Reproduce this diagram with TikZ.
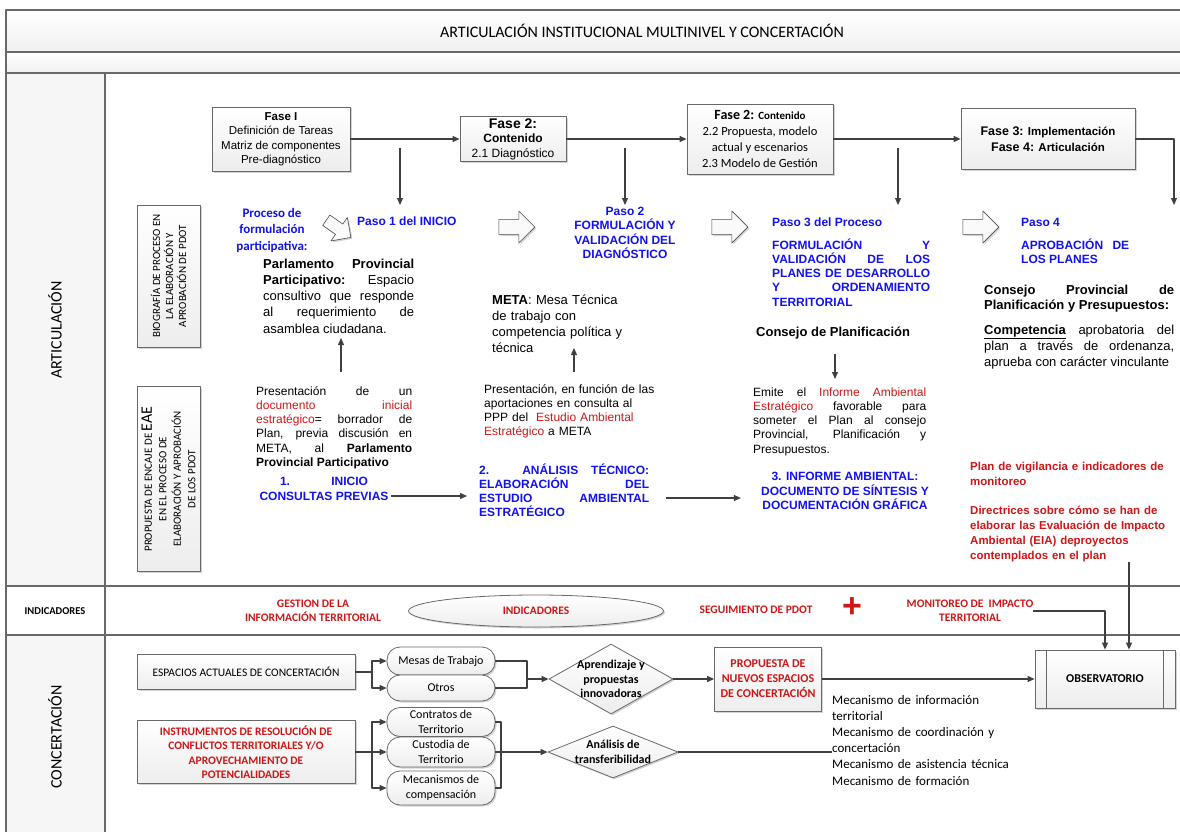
\documentclass[tikz,border=0pt]{standalone}
\usepackage{fontspec}
\setmainfont{Liberation Sans}
\newfontfamily\calib{Carlito}
\usepackage{xcolor}
\usetikzlibrary{arrows.meta,positioning,calc,shapes.geometric,shapes.arrows,shadows}
\definecolor{Xblue}{RGB}{18,18,235}
\definecolor{Xred}{RGB}{205,22,22}
\definecolor{Xline}{RGB}{64,64,64}
\definecolor{Xframe}{RGB}{105,105,105}
\newcommand{\fs}[2]{\fontsize{#1}{#2}\selectfont}
\hyphenpenalty=10000
\exhyphenpenalty=10000
\hbadness=10000
\tolerance=3000
\tikzset{
  flow/.style={-{Triangle[length=7pt,width=6pt]}, line width=1.1pt, draw=Xline},
  link/.style={line width=1.1pt, draw=Xline},
  lane/.style={draw=Xframe, line width=1.2pt},
  shadowed/.style={drop shadow={opacity=0.35, shadow xshift=1.5pt, shadow yshift=-1.5pt}},
  fasebox/.style={shadowed, draw=Xframe, line width=0.8pt, top color=white, bottom color=gray!14, align=center, inner sep=2pt},
  sidebox/.style={fasebox, rotate=90, font=\calib\fs{11}{13}},
  pillbox/.style={fasebox, rounded corners=13pt, minimum width=108pt, font=\calib\fs{12}{14.5}},
  decision/.style={diamond, shadowed, draw=Xframe, line width=0.8pt, top color=white, bottom color=gray!14, inner sep=0pt},
  blockarrow/.style={single arrow, shadowed, draw=gray!60!black, line width=0.6pt, fill=gray!4, minimum height=36pt, minimum width=32pt, single arrow head extend=8pt, inner xsep=0pt, inner ysep=7pt},
  bluetext/.style={text=Xblue, inner sep=0pt, font=\bfseries\fs{12}{14.3}},
  redtext/.style={text=Xred, inner sep=0pt},
  bodytext/.style={inner sep=0pt, font=\fs{12}{14.3}},
}
\begin{document}
\begin{tikzpicture}[x=1pt, y=-1pt, line join=round]
\useasboundingbox (0,0) rectangle (1180,832);
% frame and lanes
\fill[gray!7] (6,73) rectangle (105,586);
\fill[gray!7] (6,635) rectangle (105,840);
\shade[top color=white, bottom color=gray!12] (6,10) rectangle (1186,52);
\shade[top color=white, bottom color=gray!12] (6,52) rectangle (1186,73);
\draw[lane] (6,840) -- (6,10) -- (1186,10);
\draw[lane] (6,52) -- (1186,52);
\draw[lane] (6,73) -- (1186,73);
\draw[lane] (105,73) -- (105,840);
\draw[lane] (6,586) -- (1186,586);
\draw[lane] (6,635) -- (1186,635);

\node[font=\calib\fs{16}{18}] (title) at (642,31) {ARTICULACIÓN INSTITUCIONAL MULTINIVEL Y CONCERTACIÓN};
\node[rotate=90, font=\calib\fs{16}{18}] (lArt) at (55,330) {ARTICULACIÓN};
\node[font=\calib\bfseries\fs{10.5}{12}] (lInd) at (55,611) {INDICADORES};
\node[rotate=90, font=\calib\fs{16}{18}] (lCon) at (55,737) {CONCERTACIÓN};

\node[sidebox, minimum width=142pt, minimum height=63pt] (bio) at (168.5,276) {BIOGRAFÍA DE PROCESO EN\\LA ELABORACIÓN Y\\APROBACIÓN DE PDOT};
\node[sidebox, minimum width=185pt, minimum height=63pt, font=\calib\fs{11}{14.5}] (eae) at (168.5,479) {PROPUESTA DE ENCAJE DE {\fs{16}{16}EAE}\\EN EL PROCESO DE\\ELABORACIÓN Y APROBACIÓN\\DE LOS PDOT};

% fases
\node[fasebox, minimum width=138pt, minimum height=64pt, font=\fs{11.5}{14.5}] (fase1) at (281,139) {\textbf{Fase I}\\Definición de Tareas\\Matriz de componentes\\Pre-diagnóstico};
\node[fasebox, minimum width=106pt, minimum height=44pt, font=\fs{12}{14.5}] (fase2) at (513,139) {{\bfseries\fs{14}{15}Fase 2:}\\\textbf{Contenido}\\2.1 Diagnóstico};
\node[fasebox, minimum width=146pt, minimum height=70pt, font=\calib\fs{12.5}{16}] (fase2b) at (760,139) {{\bfseries\fs{14}{16}Fase 2: }{\bfseries\fs{11}{16}Contenido}\\2.2 Propuesta, modelo\\actual y escenarios\\2.3 Modelo de Gestión};
\node[fasebox, minimum width=174pt, minimum height=61pt, font=\bfseries\fs{11.5}{15.5}] (fase3) at (1048,139) {{\fs{12.5}{15}Fase 3:} Implementación\\{\fs{12.5}{15}Fase 4:} Articulación};
\draw[flow] (fase1) -- (fase2);
\draw[flow] (fase2) -- (fase2b);
\draw[flow] (fase2b) -- (fase3);
\coordinate (p4top) at (1174,205);
\draw[flow] (fase3.east) -| (p4top);
\foreach \x/\n in {400/a,625/b,898/c}{
  \coordinate (dn\n) at (\x,148);
  \coordinate (dh\n) at (\x,205);
  \draw[flow] (dn\n) -- (dh\n);
}

% pasos
\node[text=Xblue, inner sep=0pt, font=\calib\bfseries\fs{13}{16.5}, align=center] (proc) at (272,230) {Proceso de\\formulación\\participativa:};
\node[blockarrow, rotate=-35, minimum height=30pt, minimum width=26pt, inner ysep=6pt] (barr1) at (336,227) {};
\node[bluetext, anchor=west] (paso1) at (357,221) {Paso 1 del INICIO};
\node[blockarrow] (barr2) at (513,227) {};
\node[bluetext, align=center] (paso2) at (625,233) {Paso 2\\FORMULACIÓN Y\\VALIDACIÓN DEL\\DIAGNÓSTICO};
\node[blockarrow] (barr3) at (726,227) {};
\node[bluetext, anchor=west] (paso3) at (772,222) {Paso 3 del Proceso};
\node[bluetext, anchor=base west, text width=158pt, align=justify] (form3) at (772,249) {FORMULACIÓN Y VALIDACIÓN DE LOS PLANES DE DESARROLLO Y ORDENAMIENTO TERRITORIAL};
\node[blockarrow] (barr4) at (977,227) {};
\node[bluetext, anchor=west] (paso4) at (1021,222) {Paso 4};
\node[bluetext, anchor=base west, text width=108pt, align=justify] (aprob4) at (1021,249) {APROBACIÓN DE LOS PLANES};

% actores
\node[bodytext, font=\fs{13}{16.3}, anchor=base west, text width=151pt, align=justify] (parl) at (263,268) {\textbf{Parlamento Provincial Participativo:} Espacio consultivo que responde al requerimiento de asamblea ciudadana.};
\node[bodytext, font=\fs{13}{16}, anchor=base west, text width=145pt, align=left] (meta) at (492,304) {\textbf{META}: Mesa Técnica\\de trabajo con\\competencia política y\\técnica};
\node[bodytext, font=\bfseries\fs{13}{16}, anchor=west] (consejo) at (756,333) {Consejo de Planificación};
\node[bodytext, font=\bfseries\fs{13}{15}, anchor=base west, text width=190pt, align=justify] (cpp) at (984,294) {Consejo Provincial de Planificación y Presupuestos:};
\node[bodytext, font=\fs{13}{16}, anchor=base west, text width=190pt, align=justify] (comp) at (984,334) {\underline{\textbf{Competencia}} aprobatoria del plan a través de ordenanza, aprueba con carácter vinculante};

% EAE
\node[bodytext, anchor=base west, text width=156pt, align=justify] (pres1) at (256,395) {Presentación de un \textcolor{Xred}{documento inicial estratégico}= borrador de Plan, previa discusión en\linebreak META, al \textbf{Parlamento Provincial Participativo}};
\node[bodytext, anchor=base west, text width=175pt, align=left] (pres2) at (484,393) {Presentación, en función de las\\aportaciones en consulta al\\PPP del \ \textcolor{Xred}{Estudio Ambiental}\\\textcolor{Xred}{Estratégico} a META};
\node[bodytext, anchor=base west, text width=173pt, align=justify] (emite) at (753,396) {Emite el \textcolor{Xred}{Informe Ambiental Estratégico} favorable para someter el Plan al consejo Provincial, Planificación y Presupuestos.};
\coordinate (u1s) at (341,372); \coordinate (u1e) at (341,338);
\coordinate (u2s) at (574,372); \coordinate (u2e) at (574,348);
\coordinate (d3s) at (835,354); \coordinate (d3e) at (835,379);
\draw[flow] (u1s) -- (u1e);
\draw[flow] (u2s) -- (u2e);
\draw[flow] (d3s) -- (d3e);

\node[bluetext, align=center] (inicio1) at (324,489) {\makebox[88pt]{1.\hfill INICIO}\\CONSULTAS PREVIAS};
\node[bluetext, anchor=base west, text width=170pt, align=justify] (analisis) at (479,474) {2. ANÁLISIS TÉCNICO: ELABORACIÓN DEL ESTUDIO AMBIENTAL ESTRATÉGICO};
\node[bluetext, align=center] (informe3) at (845,491) {3. INFORME AMBIENTAL:\\DOCUMENTO DE SÍNTESIS Y\\DOCUMENTACIÓN GRÁFICA};
\draw[flow, shorten <=2pt, shorten >=12pt] ($(inicio1.east)+(0,7)$) -- ($(inicio1.east -| analisis.west)+(0,7)$);
\draw[flow, shorten <=17pt, shorten >=20pt] ($(informe3.west -| analisis.east)+(0,7)$) -- ($(informe3.west)+(0,7)$);

\node[redtext, font=\bfseries\fs{11.5}{15}, anchor=base west, text width=205pt, align=left] (vigil) at (970,470) {Plan de vigilancia e indicadores de\\monitoreo};
\node[redtext, font=\bfseries\fs{11.5}{15}, anchor=base west, text width=205pt, align=left] (directr) at (970,514) {Directrices sobre cómo se han de\\elaborar las Evaluación de Impacto\\Ambiental (EIA) deproyectos\\contemplados en el plan};

% indicadores
\node[redtext, font=\calib\bfseries\fs{11.5}{14}, align=center] (gestion) at (313,611) {GESTION DE LA\\INFORMACIÓN TERRITORIAL};
\node[ellipse, shadowed, draw=Xframe, line width=.8pt, top color=white, bottom color=gray!14, minimum width=255pt, minimum height=32pt, inner sep=0pt, text=Xred, font=\calib\bfseries\fs{11.5}{14}] (indic) at (536,611) {INDICADORES};
\node[redtext, font=\calib\bfseries\fs{11.5}{14}] (seguim) at (756,610) {SEGUIMIENTO DE PDOT};
\node[redtext, font=\bfseries\fs{34}{34}] (plus) at (852,608) {+};
\node[redtext, font=\calib\bfseries\fs{11.5}{14}, align=center] (monit) at (970,611) {MONITOREO DE\ \ IMPACTO\\TERRITORIAL};

% concertacion
\node[fasebox, minimum width=218pt, minimum height=35pt, font=\calib\fs{11.5}{14}] (espacios) at (246,672) {ESPACIOS ACTUALES DE CONCERTACIÓN};
\node[pillbox, minimum height=28pt] (mesas) at (441,661) {Mesas de Trabajo};
\node[pillbox, minimum height=26pt] (otros) at (441,688) {Otros};
\coordinate (forkA) at (372,672);
\coordinate (joinA) at (527,679);
\draw[link] (espacios) -- (forkA);
\draw[flow] (forkA) |- (mesas);
\draw[flow] (forkA) |- (otros);
\draw[link] (mesas) -| (joinA);
\draw[link] (otros) -| (joinA);
\node[decision, minimum width=124pt, minimum height=70pt, label={[font=\calib\bfseries\fs{12}{14.5}, align=center]center:{Aprendizaje y\\propuestas\\innovadoras}}] (aprend) at (611,679) {};
\draw[flow] (joinA) -- (aprend);
\node[fasebox, minimum width=107pt, minimum height=64pt, text=Xred, font=\calib\bfseries\fs{12}{15}] (propuesta) at (768,679) {PROPUESTA DE\\NUEVOS ESPACIOS\\DE CONCERTACIÓN};
\node[fasebox, minimum width=140pt, minimum height=58pt, font=\calib\bfseries\fs{12}{14}] (obs) at (1105,679) {OBSERVATORIO};
\draw[Xframe, line width=.8pt] ([xshift=12pt]obs.north west) -- ([xshift=12pt]obs.south west)
  ([xshift=-12pt]obs.north east) -- ([xshift=-12pt]obs.south east);
\draw[flow] (aprend) -- (propuesta);
\draw[flow] (propuesta) -- (obs);
\draw[flow] (monit.east) -| (obs.north);
\coordinate (obsin) at ($(obs.north)+(24,0)$);
\draw[flow] (directr.south -| obsin) -- (obsin);
\node[anchor=base west, inner sep=0pt, font=\calib\fs{13}{16.2}, text width=200pt, align=left] (mecan) at (832,704) {Mecanismo de información\\territorial\\Mecanismo de coordinación y\\concertación\\Mecanismo de asistencia técnica\\Mecanismo de formación};

\node[fasebox, minimum width=218pt, minimum height=63pt, text=Xred, font=\calib\bfseries\fs{11.5}{14.5}] (instrum) at (246,752) {INSTRUMENTOS DE RESOLUCIÓN DE\\CONFLICTOS TERRITORIALES Y/O\\APROVECHAMIENTO DE\\POTENCIALIDADES};
\node[pillbox, minimum height=29pt] (contr) at (441,722) {Contratos de\\Territorio};
\node[pillbox, minimum height=30pt] (custod) at (441,752) {Custodia de\\Territorio};
\node[pillbox, minimum height=34pt] (compens) at (441,788) {Mecanismos de\\compensación};
\coordinate (forkB) at (372,752);
\coordinate (joinB) at (501,752);
\draw[link] (instrum) -- (forkB);
\draw[flow] (forkB) |- (contr);
\draw[flow] (forkB) -- (custod);
\draw[flow] (forkB) |- (compens);
\draw[link] (contr) -| (joinB);
\draw[link] (compens) -| (joinB);
\draw[link] (custod) -- (joinB);
\node[decision, minimum width=130pt, minimum height=52pt, label={[font=\calib\bfseries\fs{12}{14.5}, align=center]center:{Análisis de\\transferibilidad}}] (transf) at (613,752) {};
\draw[flow] (joinB) -- (transf);
\draw[link] (transf) -- (transf -| mecan.west);
\end{tikzpicture}
\end{document}
